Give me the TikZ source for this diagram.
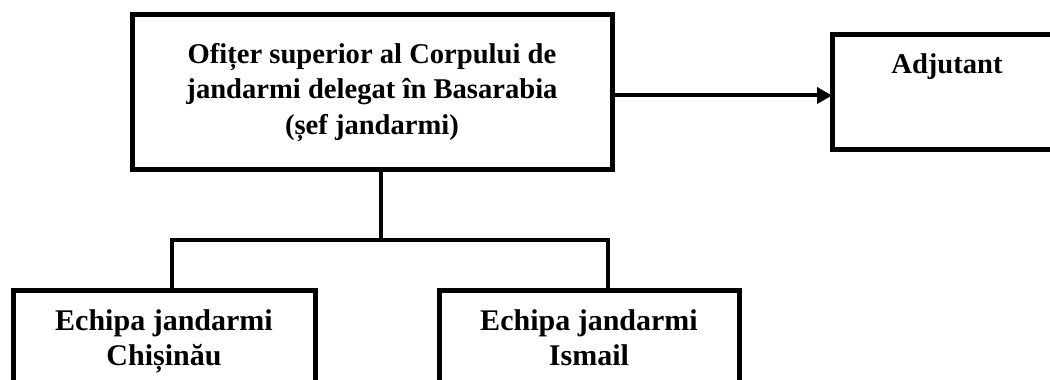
\documentclass[tikz,border=0pt]{standalone}
\usepackage{fontspec}
\setmainfont{Liberation Serif}
\usetikzlibrary{positioning, arrows.meta}
\tikzset {
    >={Triangle[length=7.5pt, width=8pt]},
    node distance=110pt,
    every node/.style={font=\fontsize{14.3}{17.8}\selectfont\bfseries},
    box/.style={draw, line width=2.5pt, outer sep=0pt, align=center},
    team/.style={box, anchor=north, minimum width=151pt, inner ysep=0pt,
        font=\fontsize{15}{17.5}\selectfont\bfseries,
        text height=37.5pt, text depth=27.5pt},
    link/.style={line width=2pt}
}

\begin{document}
\begin{tikzpicture}
    \useasboundingbox (0,0) rectangle (525pt,190pt);

    \node[box, minimum width=240pt, minimum height=77.5pt] (sef) at (186pt,143.75pt)
        {Ofițer superior al Corpului de\\jandarmi delegat în Basarabia\\(șef jandarmi)};
    \node[box, right=of sef, minimum width=115pt, inner ysep=0pt,
        text height=19.5pt, text depth=38pt] (adj) {Adjutant};

    \node[team] (chis) at (82pt,44.75pt) {Echipa jandarmi\\Chișinău};
    \node[team, minimum width=150pt] (ism) at (294.5pt,44.75pt) {Echipa jandarmi\\Ismail};

    \coordinate (fork) at (190.5pt,70pt);
    \coordinate (forkL) at (86pt,70pt);
    \coordinate (forkR) at (304pt,70pt);

    \draw[link, ->] ([yshift=-1.5pt]sef.east) -- ([yshift=-1.5pt]adj.west);
    \draw[link] (sef.south -| fork) -- (fork);
    \draw[link] (chis.north -| forkL) -- (forkL) -- (forkR) -- (ism.north -| forkR);
\end{tikzpicture}
\end{document}
